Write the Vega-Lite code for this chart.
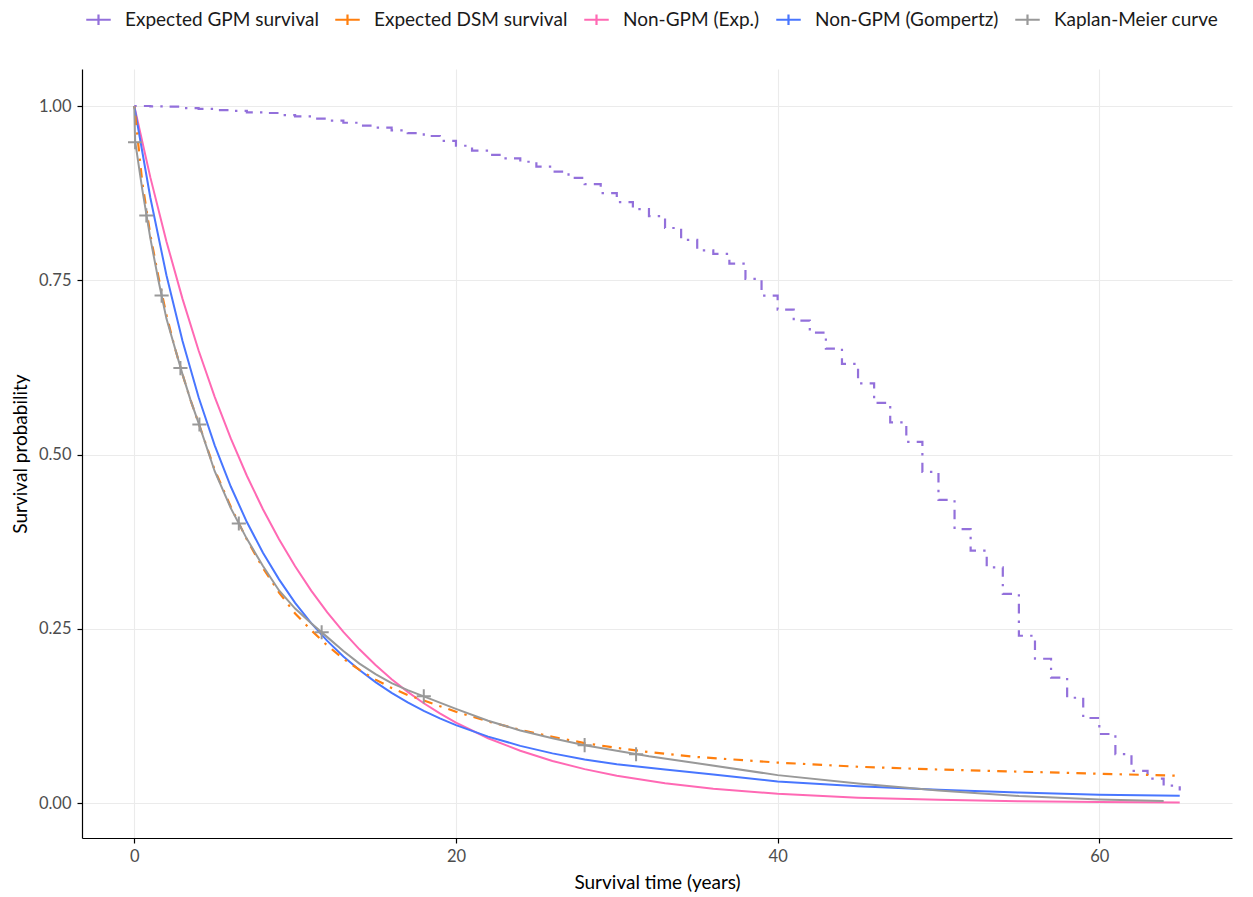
{
  "$schema": "https://vega.github.io/schema/vega-lite/v6.json",
  "autosize": "none",
  "width": 1150,
  "height": 769,
  "padding": {"left": 82, "top": 69, "right": 21, "bottom": 59},
  "background": "white",
  "config": {
    "font": "Lato",
    "view": {"stroke": null},
    "axis": {
      "domainColor": "#000000",
      "domainWidth": 1.2,
      "tickColor": "#000000",
      "tickSize": 5,
      "tickWidth": 1.2,
      "labelColor": "#4D4D4D",
      "labelFontSize": 16.5,
      "titleFontSize": 19,
      "titleFontWeight": "normal",
      "titleColor": "#000000",
      "gridColor": "#EBEBEB",
      "gridWidth": 1.1
    },
    "legend": {
      "labelFontSize": 19,
      "labelColor": "#1A1A1A",
      "labelFont": "Lato",
      "labelLimit": 400
    }
  },
  "datasets": {
    "curves": [
      {"curve": "Expected GPM survival", "t": 0, "s": 1.0},
      {"curve": "Expected GPM survival", "t": 1, "s": 0.9995},
      {"curve": "Expected GPM survival", "t": 2, "s": 0.999},
      {"curve": "Expected GPM survival", "t": 3, "s": 0.997},
      {"curve": "Expected GPM survival", "t": 4, "s": 0.996},
      {"curve": "Expected GPM survival", "t": 5, "s": 0.994},
      {"curve": "Expected GPM survival", "t": 6, "s": 0.993},
      {"curve": "Expected GPM survival", "t": 7, "s": 0.991},
      {"curve": "Expected GPM survival", "t": 8, "s": 0.99},
      {"curve": "Expected GPM survival", "t": 9, "s": 0.987},
      {"curve": "Expected GPM survival", "t": 10, "s": 0.985},
      {"curve": "Expected GPM survival", "t": 11, "s": 0.982},
      {"curve": "Expected GPM survival", "t": 12, "s": 0.979},
      {"curve": "Expected GPM survival", "t": 13, "s": 0.976},
      {"curve": "Expected GPM survival", "t": 14, "s": 0.972},
      {"curve": "Expected GPM survival", "t": 15, "s": 0.969},
      {"curve": "Expected GPM survival", "t": 16, "s": 0.965},
      {"curve": "Expected GPM survival", "t": 17, "s": 0.961},
      {"curve": "Expected GPM survival", "t": 18, "s": 0.957},
      {"curve": "Expected GPM survival", "t": 19, "s": 0.95},
      {"curve": "Expected GPM survival", "t": 20, "s": 0.943},
      {"curve": "Expected GPM survival", "t": 21, "s": 0.936},
      {"curve": "Expected GPM survival", "t": 22, "s": 0.93},
      {"curve": "Expected GPM survival", "t": 23, "s": 0.925},
      {"curve": "Expected GPM survival", "t": 24, "s": 0.92},
      {"curve": "Expected GPM survival", "t": 25, "s": 0.913},
      {"curve": "Expected GPM survival", "t": 26, "s": 0.906},
      {"curve": "Expected GPM survival", "t": 27, "s": 0.897},
      {"curve": "Expected GPM survival", "t": 28, "s": 0.888},
      {"curve": "Expected GPM survival", "t": 29, "s": 0.875},
      {"curve": "Expected GPM survival", "t": 30, "s": 0.862},
      {"curve": "Expected GPM survival", "t": 31, "s": 0.852},
      {"curve": "Expected GPM survival", "t": 32, "s": 0.842},
      {"curve": "Expected GPM survival", "t": 33, "s": 0.825},
      {"curve": "Expected GPM survival", "t": 34, "s": 0.808},
      {"curve": "Expected GPM survival", "t": 35, "s": 0.793},
      {"curve": "Expected GPM survival", "t": 36, "s": 0.788},
      {"curve": "Expected GPM survival", "t": 37, "s": 0.774},
      {"curve": "Expected GPM survival", "t": 38, "s": 0.752},
      {"curve": "Expected GPM survival", "t": 39, "s": 0.728},
      {"curve": "Expected GPM survival", "t": 40, "s": 0.708},
      {"curve": "Expected GPM survival", "t": 41, "s": 0.692},
      {"curve": "Expected GPM survival", "t": 42, "s": 0.675},
      {"curve": "Expected GPM survival", "t": 43, "s": 0.652},
      {"curve": "Expected GPM survival", "t": 44, "s": 0.63},
      {"curve": "Expected GPM survival", "t": 45, "s": 0.602},
      {"curve": "Expected GPM survival", "t": 46, "s": 0.574},
      {"curve": "Expected GPM survival", "t": 47, "s": 0.546},
      {"curve": "Expected GPM survival", "t": 48, "s": 0.518},
      {"curve": "Expected GPM survival", "t": 49, "s": 0.475},
      {"curve": "Expected GPM survival", "t": 50, "s": 0.435},
      {"curve": "Expected GPM survival", "t": 51, "s": 0.393},
      {"curve": "Expected GPM survival", "t": 52, "s": 0.362},
      {"curve": "Expected GPM survival", "t": 53, "s": 0.338},
      {"curve": "Expected GPM survival", "t": 54, "s": 0.3},
      {"curve": "Expected GPM survival", "t": 55, "s": 0.24},
      {"curve": "Expected GPM survival", "t": 56, "s": 0.207},
      {"curve": "Expected GPM survival", "t": 57, "s": 0.18},
      {"curve": "Expected GPM survival", "t": 58, "s": 0.151},
      {"curve": "Expected GPM survival", "t": 59, "s": 0.122},
      {"curve": "Expected GPM survival", "t": 60, "s": 0.099},
      {"curve": "Expected GPM survival", "t": 61, "s": 0.07},
      {"curve": "Expected GPM survival", "t": 62, "s": 0.046},
      {"curve": "Expected GPM survival", "t": 63, "s": 0.035},
      {"curve": "Expected GPM survival", "t": 64, "s": 0.025},
      {"curve": "Expected GPM survival", "t": 65, "s": 0.018},

      {"curve": "Expected DSM survival", "t": 0, "s": 1.0},
      {"curve": "Expected DSM survival", "t": 0.5, "s": 0.89},
      {"curve": "Expected DSM survival", "t": 1, "s": 0.815},
      {"curve": "Expected DSM survival", "t": 1.5, "s": 0.755},
      {"curve": "Expected DSM survival", "t": 2, "s": 0.7},
      {"curve": "Expected DSM survival", "t": 2.5, "s": 0.655},
      {"curve": "Expected DSM survival", "t": 3, "s": 0.615},
      {"curve": "Expected DSM survival", "t": 3.5, "s": 0.578},
      {"curve": "Expected DSM survival", "t": 4, "s": 0.545},
      {"curve": "Expected DSM survival", "t": 5, "s": 0.478},
      {"curve": "Expected DSM survival", "t": 6, "s": 0.425},
      {"curve": "Expected DSM survival", "t": 7, "s": 0.378},
      {"curve": "Expected DSM survival", "t": 8, "s": 0.337},
      {"curve": "Expected DSM survival", "t": 9, "s": 0.302},
      {"curve": "Expected DSM survival", "t": 10, "s": 0.272},
      {"curve": "Expected DSM survival", "t": 11, "s": 0.248},
      {"curve": "Expected DSM survival", "t": 12, "s": 0.226},
      {"curve": "Expected DSM survival", "t": 13, "s": 0.207},
      {"curve": "Expected DSM survival", "t": 14, "s": 0.191},
      {"curve": "Expected DSM survival", "t": 15, "s": 0.177},
      {"curve": "Expected DSM survival", "t": 16, "s": 0.165},
      {"curve": "Expected DSM survival", "t": 17, "s": 0.155},
      {"curve": "Expected DSM survival", "t": 18, "s": 0.147},
      {"curve": "Expected DSM survival", "t": 20, "s": 0.131},
      {"curve": "Expected DSM survival", "t": 22, "s": 0.117},
      {"curve": "Expected DSM survival", "t": 24, "s": 0.105},
      {"curve": "Expected DSM survival", "t": 26, "s": 0.095},
      {"curve": "Expected DSM survival", "t": 28, "s": 0.086},
      {"curve": "Expected DSM survival", "t": 30, "s": 0.079},
      {"curve": "Expected DSM survival", "t": 32, "s": 0.073},
      {"curve": "Expected DSM survival", "t": 35, "s": 0.066},
      {"curve": "Expected DSM survival", "t": 40, "s": 0.058},
      {"curve": "Expected DSM survival", "t": 45, "s": 0.052},
      {"curve": "Expected DSM survival", "t": 50, "s": 0.048},
      {"curve": "Expected DSM survival", "t": 55, "s": 0.045},
      {"curve": "Expected DSM survival", "t": 60, "s": 0.042},
      {"curve": "Expected DSM survival", "t": 65, "s": 0.039},

      {"curve": "Non-GPM (Exp.)", "t": 0, "s": 1.0},
      {"curve": "Non-GPM (Exp.)", "t": 1, "s": 0.8976},
      {"curve": "Non-GPM (Exp.)", "t": 2, "s": 0.8057},
      {"curve": "Non-GPM (Exp.)", "t": 3, "s": 0.7233},
      {"curve": "Non-GPM (Exp.)", "t": 4, "s": 0.6492},
      {"curve": "Non-GPM (Exp.)", "t": 5, "s": 0.5827},
      {"curve": "Non-GPM (Exp.)", "t": 6, "s": 0.5231},
      {"curve": "Non-GPM (Exp.)", "t": 7, "s": 0.4695},
      {"curve": "Non-GPM (Exp.)", "t": 8, "s": 0.4215},
      {"curve": "Non-GPM (Exp.)", "t": 9, "s": 0.3783},
      {"curve": "Non-GPM (Exp.)", "t": 10, "s": 0.3396},
      {"curve": "Non-GPM (Exp.)", "t": 11, "s": 0.3048},
      {"curve": "Non-GPM (Exp.)", "t": 12, "s": 0.2736},
      {"curve": "Non-GPM (Exp.)", "t": 13, "s": 0.2456},
      {"curve": "Non-GPM (Exp.)", "t": 14, "s": 0.2205},
      {"curve": "Non-GPM (Exp.)", "t": 15, "s": 0.1979},
      {"curve": "Non-GPM (Exp.)", "t": 16, "s": 0.1776},
      {"curve": "Non-GPM (Exp.)", "t": 17, "s": 0.1595},
      {"curve": "Non-GPM (Exp.)", "t": 18, "s": 0.1431},
      {"curve": "Non-GPM (Exp.)", "t": 19, "s": 0.1285},
      {"curve": "Non-GPM (Exp.)", "t": 20, "s": 0.1153},
      {"curve": "Non-GPM (Exp.)", "t": 22, "s": 0.0929},
      {"curve": "Non-GPM (Exp.)", "t": 24, "s": 0.0749},
      {"curve": "Non-GPM (Exp.)", "t": 26, "s": 0.0603},
      {"curve": "Non-GPM (Exp.)", "t": 28, "s": 0.0486},
      {"curve": "Non-GPM (Exp.)", "t": 30, "s": 0.0392},
      {"curve": "Non-GPM (Exp.)", "t": 33, "s": 0.0284},
      {"curve": "Non-GPM (Exp.)", "t": 36, "s": 0.0205},
      {"curve": "Non-GPM (Exp.)", "t": 40, "s": 0.0133},
      {"curve": "Non-GPM (Exp.)", "t": 45, "s": 0.0077},
      {"curve": "Non-GPM (Exp.)", "t": 50, "s": 0.0045},
      {"curve": "Non-GPM (Exp.)", "t": 55, "s": 0.0026},
      {"curve": "Non-GPM (Exp.)", "t": 60, "s": 0.0015},
      {"curve": "Non-GPM (Exp.)", "t": 65, "s": 0.0009},

      {"curve": "Non-GPM (Gompertz)", "t": 0, "s": 1.0},
      {"curve": "Non-GPM (Gompertz)", "t": 1, "s": 0.8684},
      {"curve": "Non-GPM (Gompertz)", "t": 2, "s": 0.7572},
      {"curve": "Non-GPM (Gompertz)", "t": 3, "s": 0.6627},
      {"curve": "Non-GPM (Gompertz)", "t": 4, "s": 0.5821},
      {"curve": "Non-GPM (Gompertz)", "t": 5, "s": 0.5132},
      {"curve": "Non-GPM (Gompertz)", "t": 6, "s": 0.4541},
      {"curve": "Non-GPM (Gompertz)", "t": 7, "s": 0.4031},
      {"curve": "Non-GPM (Gompertz)", "t": 8, "s": 0.3591},
      {"curve": "Non-GPM (Gompertz)", "t": 9, "s": 0.3209},
      {"curve": "Non-GPM (Gompertz)", "t": 10, "s": 0.2871},
      {"curve": "Non-GPM (Gompertz)", "t": 11, "s": 0.2581},
      {"curve": "Non-GPM (Gompertz)", "t": 12, "s": 0.2326},
      {"curve": "Non-GPM (Gompertz)", "t": 13, "s": 0.2103},
      {"curve": "Non-GPM (Gompertz)", "t": 14, "s": 0.1907},
      {"curve": "Non-GPM (Gompertz)", "t": 15, "s": 0.1734},
      {"curve": "Non-GPM (Gompertz)", "t": 16, "s": 0.158},
      {"curve": "Non-GPM (Gompertz)", "t": 17, "s": 0.1443},
      {"curve": "Non-GPM (Gompertz)", "t": 18, "s": 0.1323},
      {"curve": "Non-GPM (Gompertz)", "t": 19, "s": 0.1215},
      {"curve": "Non-GPM (Gompertz)", "t": 20, "s": 0.1118},
      {"curve": "Non-GPM (Gompertz)", "t": 22, "s": 0.0953},
      {"curve": "Non-GPM (Gompertz)", "t": 24, "s": 0.082},
      {"curve": "Non-GPM (Gompertz)", "t": 26, "s": 0.0712},
      {"curve": "Non-GPM (Gompertz)", "t": 28, "s": 0.0625},
      {"curve": "Non-GPM (Gompertz)", "t": 30, "s": 0.0555},
      {"curve": "Non-GPM (Gompertz)", "t": 33, "s": 0.048},
      {"curve": "Non-GPM (Gompertz)", "t": 36, "s": 0.041},
      {"curve": "Non-GPM (Gompertz)", "t": 40, "s": 0.031},
      {"curve": "Non-GPM (Gompertz)", "t": 45, "s": 0.024},
      {"curve": "Non-GPM (Gompertz)", "t": 50, "s": 0.019},
      {"curve": "Non-GPM (Gompertz)", "t": 55, "s": 0.015},
      {"curve": "Non-GPM (Gompertz)", "t": 60, "s": 0.012},
      {"curve": "Non-GPM (Gompertz)", "t": 65, "s": 0.0105},

      {"curve": "Kaplan-Meier curve", "t": 0, "s": 1.0},
      {"curve": "Kaplan-Meier curve", "t": 0.05, "s": 0.95},
      {"curve": "Kaplan-Meier curve", "t": 0.5, "s": 0.88},
      {"curve": "Kaplan-Meier curve", "t": 1, "s": 0.81},
      {"curve": "Kaplan-Meier curve", "t": 1.5, "s": 0.75},
      {"curve": "Kaplan-Meier curve", "t": 2, "s": 0.695},
      {"curve": "Kaplan-Meier curve", "t": 2.5, "s": 0.655},
      {"curve": "Kaplan-Meier curve", "t": 3, "s": 0.615},
      {"curve": "Kaplan-Meier curve", "t": 3.5, "s": 0.578},
      {"curve": "Kaplan-Meier curve", "t": 4, "s": 0.545},
      {"curve": "Kaplan-Meier curve", "t": 5, "s": 0.476},
      {"curve": "Kaplan-Meier curve", "t": 6, "s": 0.423},
      {"curve": "Kaplan-Meier curve", "t": 7, "s": 0.379},
      {"curve": "Kaplan-Meier curve", "t": 8, "s": 0.34},
      {"curve": "Kaplan-Meier curve", "t": 9, "s": 0.305},
      {"curve": "Kaplan-Meier curve", "t": 10, "s": 0.279},
      {"curve": "Kaplan-Meier curve", "t": 11, "s": 0.258},
      {"curve": "Kaplan-Meier curve", "t": 12, "s": 0.238},
      {"curve": "Kaplan-Meier curve", "t": 13, "s": 0.218},
      {"curve": "Kaplan-Meier curve", "t": 14, "s": 0.2},
      {"curve": "Kaplan-Meier curve", "t": 15, "s": 0.185},
      {"curve": "Kaplan-Meier curve", "t": 16, "s": 0.172},
      {"curve": "Kaplan-Meier curve", "t": 17, "s": 0.162},
      {"curve": "Kaplan-Meier curve", "t": 18, "s": 0.153},
      {"curve": "Kaplan-Meier curve", "t": 20, "s": 0.135},
      {"curve": "Kaplan-Meier curve", "t": 22, "s": 0.118},
      {"curve": "Kaplan-Meier curve", "t": 24, "s": 0.104},
      {"curve": "Kaplan-Meier curve", "t": 26, "s": 0.093},
      {"curve": "Kaplan-Meier curve", "t": 28, "s": 0.083},
      {"curve": "Kaplan-Meier curve", "t": 30, "s": 0.075},
      {"curve": "Kaplan-Meier curve", "t": 32, "s": 0.067},
      {"curve": "Kaplan-Meier curve", "t": 35, "s": 0.057},
      {"curve": "Kaplan-Meier curve", "t": 40, "s": 0.04},
      {"curve": "Kaplan-Meier curve", "t": 45, "s": 0.028},
      {"curve": "Kaplan-Meier curve", "t": 50, "s": 0.018},
      {"curve": "Kaplan-Meier curve", "t": 55, "s": 0.01},
      {"curve": "Kaplan-Meier curve", "t": 60, "s": 0.005},
      {"curve": "Kaplan-Meier curve", "t": 64, "s": 0.003}
    ],
    "censor": [
      {"curve": "Kaplan-Meier curve", "t": 0.05, "s": 0.948},
      {"curve": "Kaplan-Meier curve", "t": 0.75, "s": 0.843},
      {"curve": "Kaplan-Meier curve", "t": 1.7, "s": 0.728},
      {"curve": "Kaplan-Meier curve", "t": 2.87, "s": 0.624},
      {"curve": "Kaplan-Meier curve", "t": 4.05, "s": 0.543},
      {"curve": "Kaplan-Meier curve", "t": 6.5, "s": 0.401},
      {"curve": "Kaplan-Meier curve", "t": 11.65, "s": 0.245},
      {"curve": "Kaplan-Meier curve", "t": 18, "s": 0.153},
      {"curve": "Kaplan-Meier curve", "t": 28, "s": 0.083},
      {"curve": "Kaplan-Meier curve", "t": 31.2, "s": 0.07}
    ]
  },
  "encoding": {
    "x": {
      "field": "t", "type": "quantitative",
      "scale": {"domain": [-3.25, 68.25], "nice": false, "zero": false},
      "axis": {"values": [0, 20, 40, 60], "title": "Survival time (years)", "labelPadding": 5, "titlePadding": 9}
    },
    "y": {
      "field": "s", "type": "quantitative",
      "scale": {"domain": [-0.0502, 1.0531], "nice": false, "zero": false},
      "axis": {"values": [0, 0.25, 0.5, 0.75, 1], "format": ".2f", "title": "Survival probability", "labelPadding": 6, "titlePadding": 8}
    },
    "color": {
      "field": "curve", "type": "nominal",
      "scale": {
        "domain": ["Expected GPM survival", "Expected DSM survival", "Non-GPM (Exp.)", "Non-GPM (Gompertz)", "Kaplan-Meier curve"],
        "range": ["#9370DB", "#FF7F0E", "#FF69B4", "#4876FF", "#999999"]
      },
      "legend": {
        "title": null,
        "orient": "none",
        "direction": "horizontal",
        "legendX": 3,
        "legendY": -63,
        "padding": 0,
        "symbolType": "M-1,0H1M0,-0.42V0.42",
        "symbolSize": 600,
        "symbolStrokeWidth": 2.2,
        "symbolFillColor": "transparent",
        "labelOffset": 13,
        "columnPadding": 11,
        "encode": {"symbols": {"update": {"strokeDash": {"value": []}, "opacity": {"value": 1}}}}
      }
    }
  },
  "layer": [
    {
      "data": {"name": "curves"},
      "transform": [{"filter": "datum.curve === 'Non-GPM (Exp.)' || datum.curve === 'Non-GPM (Gompertz)'"}],
      "mark": {"type": "line", "strokeWidth": 2, "interpolate": "linear"}
    },
    {
      "data": {"name": "curves"},
      "transform": [{"filter": "datum.curve === 'Expected GPM survival'"}],
      "mark": {"type": "line", "strokeWidth": 2.2, "interpolate": "step-after", "strokeDash": [2.4, 7.2, 9.6, 7.2]}
    },
    {
      "data": {"name": "curves"},
      "transform": [{"filter": "datum.curve === 'Expected DSM survival'"}],
      "mark": {"type": "line", "strokeWidth": 2.2, "interpolate": "linear", "strokeDash": [2.4, 7.2, 9.6, 7.2]}
    },
    {
      "data": {"name": "curves"},
      "transform": [{"filter": "datum.curve === 'Kaplan-Meier curve'"}],
      "mark": {"type": "line", "strokeWidth": 2, "interpolate": "linear"}
    },
    {
      "data": {"name": "censor"},
      "mark": {"type": "point", "shape": "M-1,0H1M0,-1V1", "size": 200, "filled": false, "strokeWidth": 2, "opacity": 1}
    }
  ]
}
